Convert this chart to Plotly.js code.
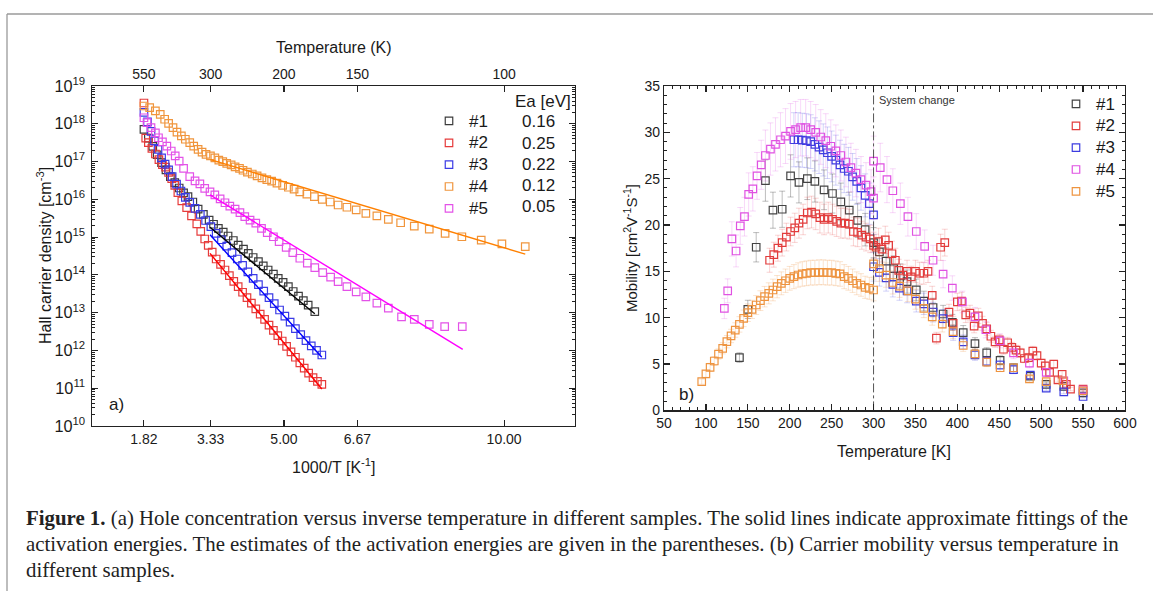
<!DOCTYPE html>
<html>
<head>
<meta charset="utf-8">
<script src="https://cdn.plot.ly/plotly-3.0.1.min.js"></script>
<style>
  html, body { margin: 0; padding: 0; background: #ffffff; }
  #chart { width: 1153px; height: 591px; }
</style>
</head>
<body>
<div id="chart"></div>
<script>
// ---------------- Panel (a): Hall carrier density vs 1000/T ----------------
const sampleNamesA = ['#1', '#2', '#3', '#4', '#5'];
const eaValues = ['0.16', '0.25', '0.22', '0.12', '0.05'];

const invT_s1 = [1.82,1.92,2.02,2.12,2.22,2.32,2.42,2.52,2.62,2.72,2.82,2.93,3.05,3.17,3.30,3.40,3.51,3.62,3.73,3.85,3.96,4.08,4.19,4.30,4.42,4.53,4.64,4.76,4.87,4.98,5.10,5.21,5.33,5.44,5.55,5.70];
const logN_s1  = [17.85,17.62,17.40,17.18,16.97,16.78,16.60,16.44,16.30,16.17,16.07,15.93,15.74,15.60,15.45,15.34,15.23,15.13,15.03,14.91,14.79,14.68,14.57,14.46,14.35,14.24,14.13,14.02,13.91,13.80,13.69,13.56,13.44,13.32,13.20,13.03];

const invT_s2 = [1.82,1.86,1.92,2.00,2.08,2.16,2.24,2.31,2.38,2.45,2.52,2.59,2.68,2.79,2.90,3.02,3.11,3.20,3.28,3.37,3.46,3.56,3.66,3.76,3.86,3.96,4.06,4.16,4.26,4.36,4.46,4.56,4.66,4.76,4.86,4.96,5.06,5.16,5.26,5.36,5.46,5.56,5.66,5.76,5.86];
const logN_s2  = [18.55,17.62,17.50,17.35,17.20,17.05,16.92,16.85,16.71,16.55,16.37,16.18,15.96,15.78,15.56,15.35,15.15,14.95,14.78,14.60,14.42,14.28,14.13,13.98,13.83,13.69,13.54,13.40,13.25,13.10,12.96,12.82,12.67,12.53,12.39,12.25,12.11,11.96,11.82,11.67,11.53,11.40,11.28,11.18,11.10];

const invT_s3 = [1.82,1.90,1.98,2.06,2.14,2.22,2.30,2.38,2.46,2.56,2.66,2.76,2.86,2.98,3.10,3.22,3.34,3.46,3.58,3.70,3.82,3.94,4.06,4.18,4.30,4.42,4.54,4.66,4.78,4.90,5.02,5.14,5.26,5.38,5.50,5.62,5.74,5.86];
const logN_s3  = [18.30,18.05,17.80,17.55,17.32,17.10,16.93,16.78,16.60,16.40,16.22,16.05,15.92,15.76,15.60,15.44,15.28,15.10,14.93,14.76,14.59,14.42,14.25,14.08,13.91,13.74,13.57,13.40,13.24,13.07,12.91,12.75,12.58,12.42,12.26,12.12,12.00,11.88];

const invT_s4 = [1.82,1.95,2.08,2.19,2.29,2.38,2.48,2.57,2.67,2.76,2.86,2.95,3.05,3.14,3.23,3.33,3.43,3.52,3.61,3.70,3.80,3.89,3.99,4.07,4.17,4.28,4.39,4.50,4.61,4.72,4.84,4.97,5.10,5.23,5.36,5.52,5.69,5.87,6.05,6.23,6.43,6.64,6.86,7.11,7.37,7.65,7.96,8.30,8.66,9.04,9.48,9.95,10.48];
const logN_s4  = [18.47,18.43,18.34,18.25,18.12,18.01,17.90,17.78,17.68,17.59,17.50,17.41,17.32,17.25,17.19,17.15,17.10,17.04,17.00,16.95,16.91,16.86,16.82,16.77,16.72,16.67,16.62,16.57,16.52,16.48,16.43,16.37,16.32,16.27,16.20,16.14,16.07,16.00,15.93,15.85,15.79,15.72,15.63,15.56,15.47,15.38,15.29,15.21,15.10,15.01,14.92,14.82,14.75];

const invT_s5 = [1.82,1.89,1.98,2.08,2.15,2.24,2.34,2.44,2.53,2.62,2.72,2.86,2.98,3.09,3.20,3.32,3.43,3.55,3.66,3.77,3.89,4.00,4.11,4.23,4.36,4.49,4.62,4.76,4.89,5.05,5.20,5.36,5.53,5.70,5.88,6.06,6.23,6.43,6.64,6.86,7.11,7.37,7.67,7.96,8.30,8.65,9.05];
const logN_s5  = [18.16,18.03,17.90,17.76,17.63,17.52,17.41,17.28,17.15,17.01,16.82,16.60,16.49,16.41,16.29,16.20,16.12,16.01,15.91,15.82,15.74,15.65,15.54,15.45,15.37,15.23,15.12,15.01,14.88,14.73,14.59,14.44,14.31,14.19,14.06,13.94,13.82,13.69,13.55,13.42,13.25,13.12,12.89,12.82,12.69,12.63,12.63];

// activation-energy fit lines (end points)
const fitX_s1 = [3.32, 5.70];  const fitLog_s1 = [15.26, 12.97];
const fitX_s2 = [3.32, 5.86];  const fitLog_s2 = [14.57, 10.98];
const fitX_s3 = [3.32, 5.86];  const fitLog_s3 = [15.06, 11.82];
const fitX_s4 = [3.33, 10.48]; const fitLog_s4 = [17.05, 14.55];
const fitX_s5 = [3.32, 9.06];  const fitLog_s5 = [16.12, 12.03];

const tempTicks = [550, 300, 200, 150, 100];   // top axis, Temperature (K)

// ---------------- Panel (b): mobility vs temperature ----------------
const T_m1  = [140,150,160,171,180,191,201,211,221,230,241,251,261,271,281,290,300,307,315,324,332,340,351,360,371,383,394,407,421,435,451,467,487,506,527,550];
const mu_m1 = [5.7,10.9,17.6,24.8,21.6,21.7,25.3,24.6,25.0,24.7,23.8,23.4,22.5,21.6,20.5,19.5,18.1,17.1,16.1,15.3,14.5,13.9,13.0,11.8,11.1,10.4,9.5,8.4,7.2,6.2,5.4,4.6,3.7,2.8,2.6,1.9];

const T_m2  = [176,181,186,191,196,201,206,211,216,221,226,231,236,241,246,251,256,261,266,271,276,281,286,291,296,300,303,306,310,314,318,322,326,330,335,340,345,350,355,360,365,370,375,380,385,390,395,400,405,410,415,420,425,430,435,440,445,450,455,460,465,470,475,480,485,490,495,500,505,510,515,520,525,530,535,550];
const mu_m2 = [16.2,16.8,17.5,18.1,18.7,19.3,19.7,20.2,20.6,21.3,21.4,21.2,20.8,20.6,20.8,20.6,20.4,20.2,20.2,20.1,19.3,19.2,18.9,18.7,18.5,17.8,17.6,18.2,17.4,18.4,17.8,16.9,16.2,15.1,14.6,15.0,14.4,15.0,14.8,14.8,15.0,12.4,7.8,17.6,18.1,10.6,9.4,11.7,11.8,10.3,10.5,9.1,10.2,9.4,8.8,8.0,7.4,7.6,6.6,7.3,6.8,6.5,6.2,5.6,5.7,6.4,5.9,5.1,4.8,4.1,5.0,3.3,3.9,2.8,2.3,2.3];

const T_m3  = [205,210,215,220,225,230,235,240,245,250,255,260,265,270,275,280,285,290,295,300,300,307,315,323,331,340,351,360,371,383,395,407,421,435,451,467,487,506,527,550];
const mu_m3 = [29.2,29.2,29.15,29.1,29.0,28.7,28.4,28.1,27.8,27.4,27.0,26.5,26.1,25.8,25.2,24.7,24.0,23.2,22.3,21.1,15.5,14.9,14.3,13.6,13.2,12.9,11.8,11.5,10.6,9.9,8.4,7.4,6.0,5.3,4.9,4.4,3.8,2.4,2.0,1.5];

const T_m4  = [122,126,131,136,141,146,151,156,161,166,171,177,183,189,195,201,207,213,219,225,231,237,243,249,255,261,267,273,279,285,291,297,300,300,308,316,323,332,341,351,361,371,383,394,406,421,434,451,467,486,506,527,550];
const mu_m4 = [11.0,12.9,18.5,17.2,19.9,20.9,23.3,23.9,25.3,26.5,27.5,28.2,28.7,29.2,29.6,30.1,30.3,30.5,30.5,30.3,30.0,29.5,29.1,28.5,28.0,27.5,26.8,26.2,25.6,24.9,24.3,23.6,22.9,26.9,26.2,24.9,23.7,22.3,20.9,19.3,17.7,16.2,14.7,13.2,11.7,10.1,8.7,7.5,6.2,5.1,4.1,3.2,2.2];

const T_m5  = [95,100,105,110,115,120,125,130,135,140,145,150,155,160,165,170,175,180,185,190,195,200,205,210,215,220,225,230,235,240,245,250,255,260,265,270,275,280,285,290,295,300,300,307,315,323,331,341,350,360,370,382,395,407,421,435,451,467,486,506,526,550];
const mu_m5 = [3.10,3.93,4.65,5.33,6.08,6.70,7.41,8.03,8.67,9.28,9.93,10.54,10.90,11.37,11.84,12.27,12.63,12.99,13.35,13.71,13.99,14.25,14.43,14.61,14.72,14.79,14.86,14.86,14.90,14.90,14.86,14.86,14.79,14.72,14.43,14.25,13.99,13.71,13.53,13.28,13.17,12.99,15.8,15.3,14.6,13.8,13.4,12.9,12.0,11.0,10.1,9.3,8.5,7.0,6.1,5.2,4.6,4.6,3.4,3.1,3.2,2.1];

const errPercentB = [9, 8, 10, 10, 9];     // relative error bars, %
const systemChangeT  = [300, 300];
const systemChangeMu = [0, 35];

// ---------------- styling ----------------
const W = 1153, H = 591;
const fx = v => v / W;
const fy = v => 1 - v / H;
const FONT = 'Liberation Sans, Arial, Helvetica, sans-serif';
const SERIF = 'Liberation Serif, Times New Roman, serif';
const AX = '#222222';

const markerA = ['#3c3c3c', '#e63b3b', '#3b3be6', '#f0953c', '#e352e8'];
const lineA   = ['#000000', '#ff0000', '#0000ff', '#ff8000', '#ff00ff'];
const markerB = ['#444444', '#e23c3c', '#3c3ce0', '#e052e2', '#ee9440'];
const errB    = ['rgba(70,70,70,0.35)', 'rgba(226,60,60,0.22)', 'rgba(60,60,224,0.22)',
                 'rgba(224,82,226,0.22)', 'rgba(238,148,64,0.25)'];

const pow10 = arr => arr.map(v => Math.pow(10, v));
const legendLabel = s => '<span style="font-size:17px">' + s + '</span>';

const seriesA = [
  [invT_s1, logN_s1, fitX_s1, fitLog_s1],
  [invT_s2, logN_s2, fitX_s2, fitLog_s2],
  [invT_s3, logN_s3, fitX_s3, fitLog_s3],
  [invT_s4, logN_s4, fitX_s4, fitLog_s4],
  [invT_s5, logN_s5, fitX_s5, fitLog_s5]
];
const seriesB = [[T_m1, mu_m1], [T_m2, mu_m2], [T_m3, mu_m3], [T_m4, mu_m4], [T_m5, mu_m5]];

const traces = [];
seriesA.forEach((s, i) => {
  traces.push({
    type: 'scatter', mode: 'markers', x: s[0], y: pow10(s[1]), name: legendLabel(sampleNamesA[i]),
    xaxis: 'x', yaxis: 'y', legend: 'legend',
    marker: { symbol: 'square-open', size: 7.5, color: markerA[i], line: { width: 1.2, color: markerA[i] } },
    hoverinfo: 'skip'
  });
});
seriesA.forEach((s, i) => {
  traces.push({
    type: 'scatter', mode: 'lines', x: s[2], y: pow10(s[3]), showlegend: false,
    xaxis: 'x', yaxis: 'y', line: { color: lineA[i], width: 1.4 }, hoverinfo: 'skip'
  });
});
// top temperature axis companion
traces.push({ type: 'scatter', mode: 'markers', x: [], y: [], xaxis: 'x2', yaxis: 'y', showlegend: false });

seriesB.forEach((s, i) => {
  traces.push({
    type: 'scatter', mode: 'markers', x: s[0], y: s[1], name: legendLabel(sampleNamesA[i]),
    xaxis: 'x3', yaxis: 'y3', legend: 'legend2',
    marker: { symbol: 'square-open', size: 7.5, color: markerB[i], line: { width: 1.2, color: markerB[i] } },
    error_y: { type: 'percent', value: errPercentB[i], color: errB[i], thickness: 1, width: 3 },
    hoverinfo: 'skip'
  });
});
traces.push({
  type: 'scatter', mode: 'lines', x: systemChangeT, y: systemChangeMu, showlegend: false,
  xaxis: 'x3', yaxis: 'y3', line: { color: '#555555', width: 1, dash: 'dashdot' }, hoverinfo: 'skip'
});

const invTTicks = tempTicks.map(t => 1000 / t);
const invTTickText = invTTicks.map(v => v.toFixed(2));
const tempTickText = tempTicks.map(t => String(t));

const ann = (text, x, y, opt) => Object.assign({
  text, x: fx(x), y: fy(y), xref: 'paper', yref: 'paper', showarrow: false,
  xanchor: 'center', yanchor: 'middle', font: { family: FONT, size: 16, color: '#1a1a1a' }
}, opt || {});

const annotations = [
  ann('Temperature (K)', 334, 47),
  ann('1000/T [K<sup>-1</sup>]', 334, 466),
  ann('Hall carrier density [cm<sup>-3</sup>]', 44, 256, { textangle: -90 }),
  ann('a)', 116, 405, { font: { family: FONT, size: 17, color: '#1a1a1a' } }),
  ann('Ea [eV]', 543, 101, { font: { family: FONT, size: 17, color: '#1a1a1a' } }),
  ann('Mobility [cm<sup>2</sup>V<sup>-1</sup>S<sup>-1</sup>]', 630, 248, { textangle: -90, font: { family: FONT, size: 15, color: '#1a1a1a' } }),
  ann('Temperature [K]', 894, 451),
  ann('b)', 686, 394, { font: { family: FONT, size: 17, color: '#1a1a1a' } }),
  ann('System change', 877, 100, { xanchor: 'left', font: { family: FONT, size: 11, color: '#333' } })
];
eaValues.forEach((v, i) => {
  annotations.push(ann(v, 538, 121.7 + i * 21.3, { font: { family: FONT, size: 17, color: '#1a1a1a' } }));
});
const captionLines = [
  '<b>Figure 1.</b> (a) Hole concentration versus inverse temperature in different samples. The solid lines indicate approximate fittings of the',
  'activation energies. The estimates of the activation energies are given in the parentheses. (b) Carrier mobility versus temperature in',
  'different samples.'
];
captionLines.forEach((t, i) => {
  annotations.push(ann(t, 24, 518 + i * 26, { xanchor: 'left', font: { family: SERIF, size: 20.85, color: '#222' } }));
});

const axBase = { showgrid: false, zeroline: false, showline: true, linecolor: AX, linewidth: 1.2,
                 ticks: 'inside', ticklen: 6, tickwidth: 1.2, tickcolor: AX,
                 tickfont: { family: FONT, size: 14, color: '#1a1a1a' } };

const layout = {
  width: W, height: H, margin: { l: 0, r: 0, t: 0, b: 0 },
  paper_bgcolor: '#ffffff', plot_bgcolor: 'rgba(0,0,0,0)',
  font: { family: FONT, size: 14, color: '#1a1a1a' },
  showlegend: true, hovermode: false,
  xaxis: Object.assign({}, axBase, {
    domain: [fx(92), fx(575)], range: [0.64, 11.61], anchor: 'y',
    tickmode: 'array', tickvals: invTTicks, ticktext: invTTickText, mirror: false
  }),
  xaxis2: Object.assign({}, axBase, {
    overlaying: 'x', side: 'top', anchor: 'y', range: [0.64, 11.61],
    tickmode: 'array', tickvals: invTTicks, ticktext: tempTickText
  }),
  yaxis: Object.assign({}, axBase, {
    type: 'log', domain: [fy(426), fy(86)], range: [10, 19], anchor: 'x', dtick: 1,
    exponentformat: 'power', mirror: 'ticks', ticklabelstandoff: 3,
    tickfont: { family: FONT, size: 13, color: '#1a1a1a' },
    minor: { ticks: 'inside', ticklen: 3, tickwidth: 1, tickcolor: AX, dtick: 'D1', showgrid: false }
  }),
  xaxis3: Object.assign({}, axBase, {
    domain: [fx(664), fx(1125)], range: [50, 600], anchor: 'y3', tick0: 50, dtick: 50, mirror: 'ticks',
    minor: { ticks: 'inside', ticklen: 3, tickwidth: 1, tickcolor: AX, dtick: 10, showgrid: false }
  }),
  yaxis3: Object.assign({}, axBase, {
    domain: [fy(410.4), fy(86)], range: [0, 35], anchor: 'x3', dtick: 5, mirror: 'ticks',
    minor: { ticks: 'inside', ticklen: 3, tickwidth: 1, tickcolor: AX, dtick: 1, showgrid: false }
  }),
  legend: {
    x: fx(429), y: fy(105), xanchor: 'left', yanchor: 'top', bgcolor: 'rgba(0,0,0,0)',
    font: { family: FONT, size: 14.5, color: '#1a1a1a' }, tracegroupgap: 0, itemclick: false
  },
  legend2: {
    x: fx(1056), y: fy(88), xanchor: 'left', yanchor: 'top', bgcolor: 'rgba(0,0,0,0)',
    font: { family: FONT, size: 14.5, color: '#1a1a1a' }, tracegroupgap: 0, itemclick: false
  },
  annotations: annotations,
  shapes: [
    { type: 'line', xref: 'paper', yref: 'paper', x0: fx(7), x1: 1, y0: fy(14), y1: fy(14), line: { color: '#9a9a9a', width: 1.3 } },
    { type: 'line', xref: 'paper', yref: 'paper', x0: fx(7), x1: fx(7), y0: fy(14), y1: 0, line: { color: '#9a9a9a', width: 1.3 } }
  ]
};

Plotly.newPlot('chart', traces, layout, { staticPlot: true, displayModeBar: false });
</script>
</body>
</html>
